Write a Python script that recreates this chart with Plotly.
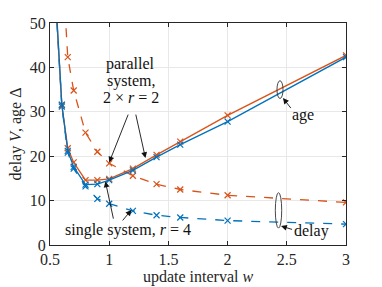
import plotly.graph_objects as go

BLUE = "#0072BD"
ORANGE = "#D95319"

x_age = [0.55, 0.6, 0.65, 0.7, 0.8, 0.9, 1.0, 1.2, 1.4, 1.6, 2.0, 3.0]
single_age = [55, 31.6, 21.2, 17.6, 13.6, 13.7, 14.6, 16.8, 19.8, 22.6, 27.8, 42.3]
parallel_age = [54, 31.5, 21.8, 18.6, 14.6, 14.6, 14.9, 17.2, 20.3, 23.3, 29.2, 42.7]

x_pdelay = [0.6, 0.65, 0.7, 0.8, 0.9, 1.0, 1.2, 1.4, 1.6, 2.0, 3.0]
parallel_delay = [65, 42.3, 34.8, 25.3, 21.0, 18.4, 15.6, 13.7, 12.5, 11.2, 9.6]

x_sdelay = [0.55, 0.6, 0.65, 0.7, 0.8, 0.9, 1.0, 1.2, 1.4, 1.6, 2.0, 3.0]
single_delay = [54, 31.2, 20.8, 17.2, 13.2, 10.4, 9.3, 7.7, 6.7, 6.2, 5.5, 4.7]

x_ticks = [0.5, 1, 1.5, 2, 2.5, 3]
y_ticks = [0, 10, 20, 30, 40, 50]

FONT = "Liberation Serif"
TXT = "#262626"

fig = go.Figure()

def add(x, y, color, dash):
    fig.add_trace(go.Scatter(
        x=x, y=y, mode="lines+markers",
        line=dict(color=color, width=1.3, dash=dash),
        marker=dict(symbol="x-thin", size=6, line=dict(width=1.2, color=color), color=color),
        showlegend=False,
    ))

add(x_pdelay, parallel_delay, ORANGE, "dash")
add(x_sdelay, single_delay, BLUE, "dash")
add(x_age, parallel_age, ORANGE, "solid")
add(x_age, single_age, BLUE, "solid")

# ellipses
fig.add_shape(type="circle", xref="x", yref="y", x0=2.417, x1=2.468, y0=33.0, y1=37.0,
              line=dict(color="#333333", width=0.9))
fig.add_shape(type="circle", xref="x", yref="y", x0=2.403, x1=2.457, y0=3.8, y1=11.8,
              line=dict(color="#333333", width=0.9))

def arrow(tx, ty, ax, ay):
    fig.add_annotation(x=tx, y=ty, ax=ax, ay=ay, xref="x", yref="y", axref="x", ayref="y",
                       text="", showarrow=True, arrowhead=2, arrowsize=1.3, arrowwidth=0.9,
                       arrowcolor="#111111")

arrow(1.0, 18.6, 1.165, 29.7)
arrow(1.306, 19.6, 1.222, 29.7)
arrow(0.968, 14.3, 1.038, 5.6)
arrow(1.188, 7.9, 1.103, 5.2)
arrow(2.468, 33.1, 2.544, 30.5)
arrow(2.451, 4.3, 2.557, 3.4)

def label(x, y, text, xanchor="center"):
    fig.add_annotation(x=x, y=y, xref="x", yref="y", text=text, showarrow=False,
                       font=dict(family=FONT, size=16, color="#111111"), xanchor=xanchor,
                       yanchor="middle", align="center")

label(1.18, 40.7, "parallel")
label(1.18, 36.9, "system,")
label(1.18, 33.2, "2 × <i>r</i> = 2")
label(1.16, 3.4, "single system, <i>r</i> = 4")
label(2.64, 29.3, "age")
label(2.705, 3.2, "delay")

axis_common = dict(
    showline=True, linecolor=TXT, linewidth=1, mirror="ticks",
    ticks="inside", ticklen=4, tickcolor=TXT,
    showgrid=True, gridcolor="#e8e8e8", gridwidth=1, zeroline=False,
    tickfont=dict(family=FONT, size=16, color=TXT),
    automargin=False,
)

fig.update_xaxes(range=[0.5, 3], tickvals=x_ticks, ticktext=["0.5", "1", "1.5", "2", "2.5", "3"],
                 title=dict(text="update interval <i>w</i>", font=dict(family=FONT, size=16, color=TXT), standoff=2),
                 **axis_common)
fig.update_yaxes(range=[0, 50], tickvals=y_ticks,
                 title=dict(text="delay <i>V</i>, age Δ", font=dict(family=FONT, size=16, color=TXT), standoff=4),
                 **axis_common)

fig.update_layout(
    width=382, height=287,
    margin=dict(l=49.5, r=36.3, t=22.7, b=42),
    plot_bgcolor="white", paper_bgcolor="white",
)

fig.write_html("out.html", config={"displayModeBar": False, "staticPlot": True})

with open("out.html", "r", encoding="utf-8") as f:
    html = f.read()
html = html.replace("<head>", "<head><style>html,body{margin:0;padding:0;overflow:hidden;}</style>", 1)
with open("out.html", "w", encoding="utf-8") as f:
    f.write(html)
